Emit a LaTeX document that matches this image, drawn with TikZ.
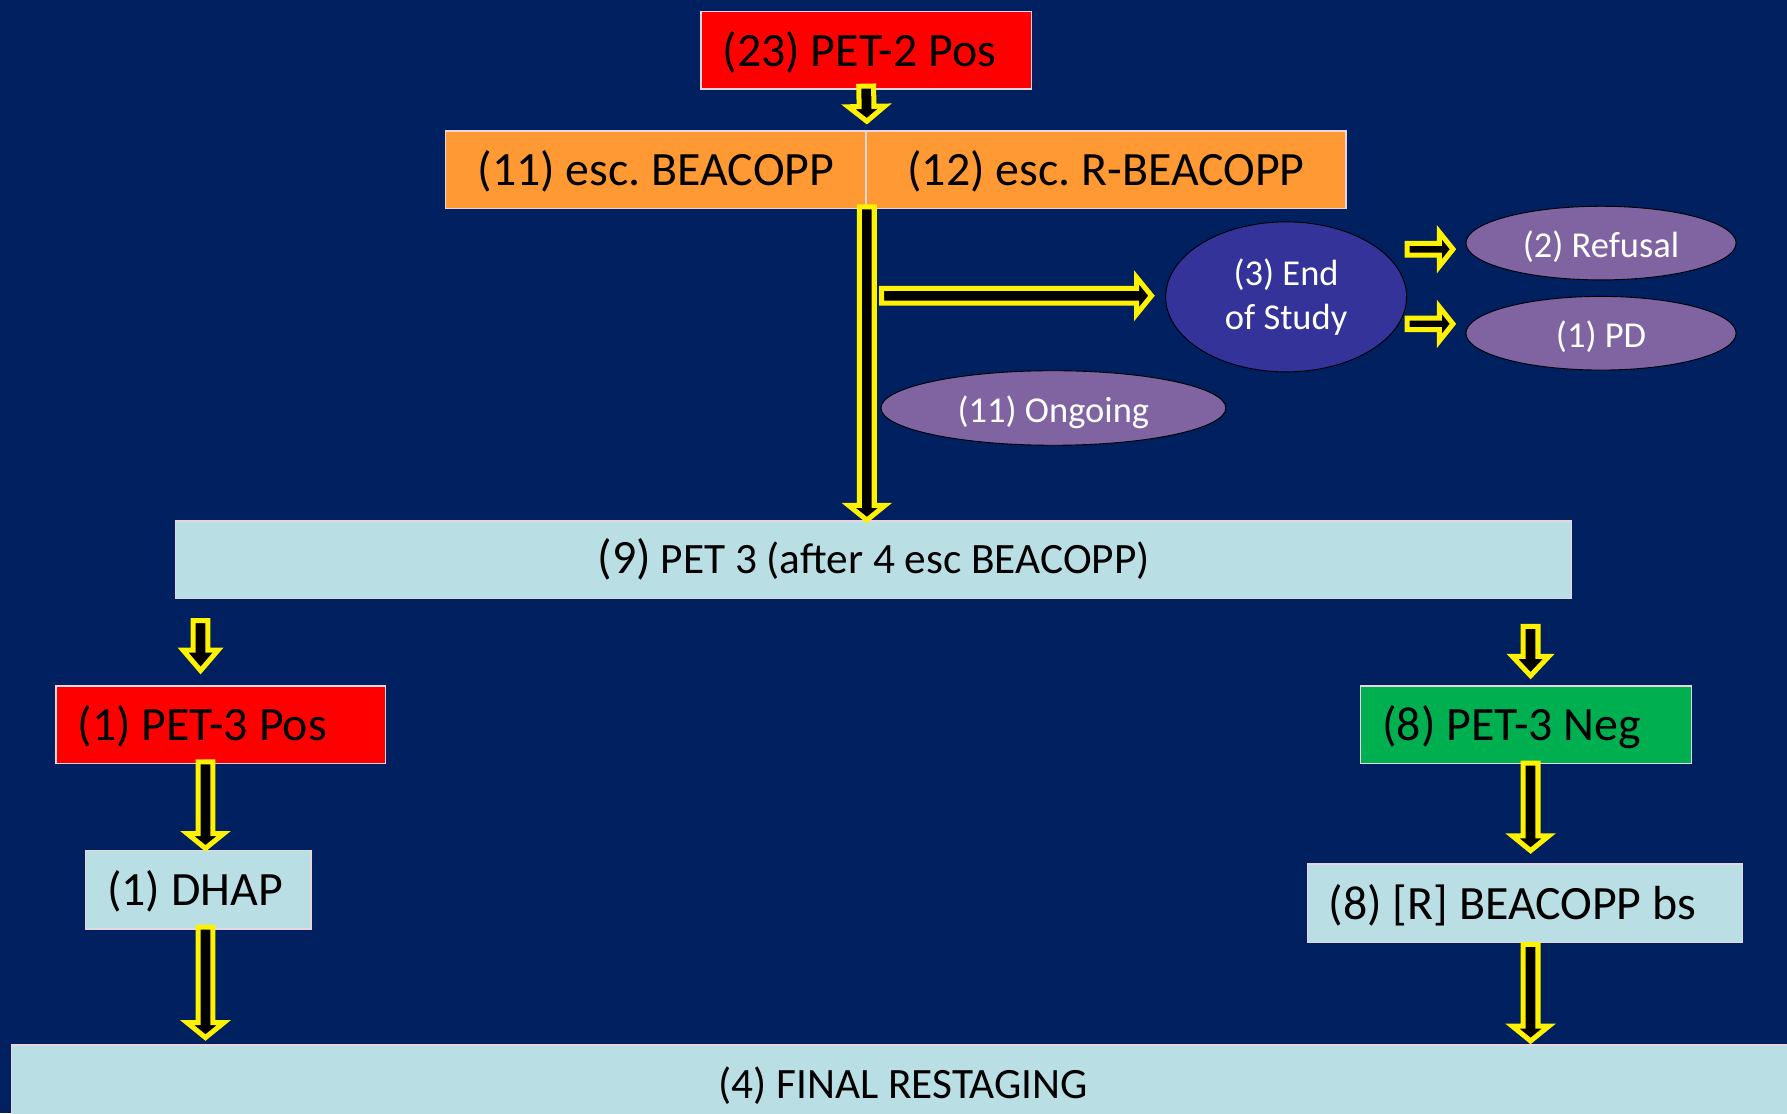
\documentclass[tikz,border=0pt]{standalone}
\usepackage{fontspec}
\setmainfont{Carlito}
\usepackage{tikz}
\usetikzlibrary{shapes.geometric,calc}
\frenchspacing

\definecolor{slidebg}{RGB}{0,32,96}
\definecolor{petred}{RGB}{255,0,0}
\definecolor{escorange}{RGB}{255,153,51}
\definecolor{paleblue}{RGB}{185,223,229}
\definecolor{neggreen}{RGB}{0,176,80}
\definecolor{ovalpurple}{RGB}{128,100,162}
\definecolor{endoval}{RGB}{51,51,153}
\definecolor{boxline}{RGB}{232,214,222}

\begin{document}
\begin{tikzpicture}[x=0.5pt,y=0.5pt,yscale=-1,xscale=1,
  bigtxt/.style={font=\fontsize{21}{25}\selectfont, text height=18.5pt, text depth=4.5pt},
  midtxt/.style={font=\fontsize{19}{23}\selectfont, text height=16.5pt, text depth=4pt},
  box/.style={rectangle, draw=boxline, line width=0.6pt, inner ysep=0pt, minimum height=34pt, text=black, bigtxt},
  leftbox/.style={box, align=flush left, inner xsep=9.5pt},
  oval/.style={ellipse, draw=black, line width=0.4pt, fill=ovalpurple, text=white, inner sep=0pt, font=\fontsize{16}{19.5}\selectfont},
  ovalline/.style={oval, text height=15.5pt, text depth=3pt},
  arrshaft/.store in=\arrshaft, arrshaft=3.25pt,
  arrheadw/.store in=\arrheadw, arrheadw=8pt,
  arrheadl/.store in=\arrheadl, arrheadl=6.5pt,
  blockarr/.style={draw=yellow, fill=black, line width=2.2pt, line join=miter,
    to path={let \p1=($(\tikztotarget)!\arrheadl!(\tikztostart)$) in
      ($(\tikztostart)!\arrshaft!90:(\tikztotarget)$) -- ($(\p1)!\arrshaft!-90:(\tikztostart)$)
      -- ($(\p1)!\arrheadw!-90:(\tikztostart)$) -- (\tikztotarget)
      -- ($(\p1)!\arrheadw!90:(\tikztostart)$) -- ($(\p1)!\arrshaft!90:(\tikztostart)$)
      -- ($(\tikztostart)!\arrshaft!-90:(\tikztotarget)$) -- cycle}},
  smallarr/.style={blockarr, arrshaft=2.55pt, arrheadw=7.5pt, arrheadl=6pt}
]
%set diagram left start at 0, and has height of 977
\useasboundingbox (0,0) rectangle (1568,977);
\clip (0,0) rectangle (1568,977);
\fill[slidebg] (0,0) rectangle (1568,977);

%Shape: Rectangle
\node[leftbox, fill=petred, text width=126pt] (pet2) at (760,44) {(23) PET-2 Pos};
%Shape: Rectangle
\node[box, fill=escorange, minimum width=184.5pt] (escA) at (575.5,149) {(11) esc. BEACOPP};
%Shape: Rectangle
\node[box, fill=escorange, minimum width=210.5pt] (escB) at (970.5,149) {(12) esc. R-BEACOPP};
%Shape: Ellipse
\node[oval, fill=endoval, minimum width=105.7pt, minimum height=65.8pt, align=center] (eos) at (1128.5,260.5) {(3) End\\of Study};
%Shape: Ellipse
\node[ovalline, minimum width=118.5pt, minimum height=32.3pt] (refusal) at (1404.8,213.3) {(2) Refusal};
%Shape: Ellipse
\node[ovalline, minimum width=118.5pt, minimum height=32.3pt] (pd) at (1404.8,292.4) {(1) PD};
%Shape: Ellipse
\node[ovalline, minimum width=151.3pt, minimum height=32.7pt] (ongoing) at (924.3,358) {(11) Ongoing};
%Shape: Rectangle
\node[box, fill=paleblue, minimum width=612.5pt, midtxt] (pet3) at (766.5,491) {{\fontsize{21}{25}\selectfont(9)} PET 3 (after 4 esc BEACOPP)};
%Shape: Rectangle
\node[leftbox, fill=petred, text width=125.5pt] (pos) at (193.5,636) {(1) PET-3 Pos};
%Shape: Rectangle
\node[leftbox, fill=neggreen, text width=126pt] (neg) at (1339,636) {(8) PET-3 Neg};
%Shape: Rectangle
\node[leftbox, fill=paleblue, text width=80pt, minimum height=34.5pt] (dhap) at (174,780.5) {(1) DHAP};
%Shape: Rectangle
\node[leftbox, fill=paleblue, text width=172pt, minimum height=34.5pt] (bs) at (1338,792.5) {(8) [R] BEACOPP bs};
%Shape: Rectangle
\node[box, fill=paleblue, minimum width=782.5pt, midtxt] (final) at (792.5,951) {(4) FINAL RESTAGING};

% arrow ends
\coordinate (a1s) at ($(pet2.south)+(0,-3)$);
\coordinate (a1t) at ($(escA.north east)+(0,-8)$);
\coordinate (a2s) at ($(escA.south east)+(0,-2)$);
\coordinate (a2t) at (escA.south east |- pet3.north);
\coordinate (a3s) at ($(escA.south east |- eos.west)+(13,-1)$);
\coordinate (a3t) at ($(eos.west)+(-12,-1)$);
\coordinate (a4s) at ($(eos.east |- refusal.west)+(0,5.4)$);
\coordinate (a4t) at ($(refusal.west)+(-11,5.4)$);
\coordinate (a5s) at ($(eos.east |- pd.west)+(0,-8.2)$);
\coordinate (a5t) at ($(pd.west)+(-11,-8.2)$);
\coordinate (a6s) at ($(pos.north |- pet3.south)+(-17.5,19)$);
\coordinate (a6t) at ($(pos.north)+(-17.5,-13)$);
\coordinate (a7s) at ($(pos.south)+(-13.2,-2)$);
\coordinate (a7t) at ($(dhap.north)+(6.3,-1)$);
\coordinate (a8s) at ($(dhap.south)+(6.3,-2)$);
\coordinate (a8t) at ($(dhap.south |- final.north)+(6.3,-6)$);
\coordinate (a9s) at ($(neg.north |- pet3.south)+(4,24)$);
\coordinate (a9t) at ($(neg.north)+(4,-8.5)$);
\coordinate (a10s) at ($(neg.south)+(4,-1)$);
\coordinate (a10t) at ($(bs.north)+(5,-11)$);
\coordinate (a11s) at ($(bs.south)+(5,1)$);
\coordinate (a11t) at ($(bs.south |- final.north)+(5,-3)$);

%Shape: Down Arrow
\draw[blockarr] (a1s) to (a1t);
\draw[blockarr] (a2s) to (a2t);
%Shape: Right Arrow
\draw[blockarr] (a3s) to (a3t);
\draw[smallarr] (a4s) to (a4t);
\draw[smallarr] (a5s) to (a5t);
%Shape: Down Arrow
\draw[blockarr, arrheadw=7.7pt, arrheadl=9pt] (a6s) to (a6t);
\draw[blockarr] (a7s) to (a7t);
\draw[blockarr] (a8s) to (a8t);
\draw[blockarr, arrheadl=8.5pt] (a9s) to (a9t);
\draw[blockarr] (a10s) to (a10t);
\draw[blockarr] (a11s) to (a11t);

\end{tikzpicture}
\end{document}
